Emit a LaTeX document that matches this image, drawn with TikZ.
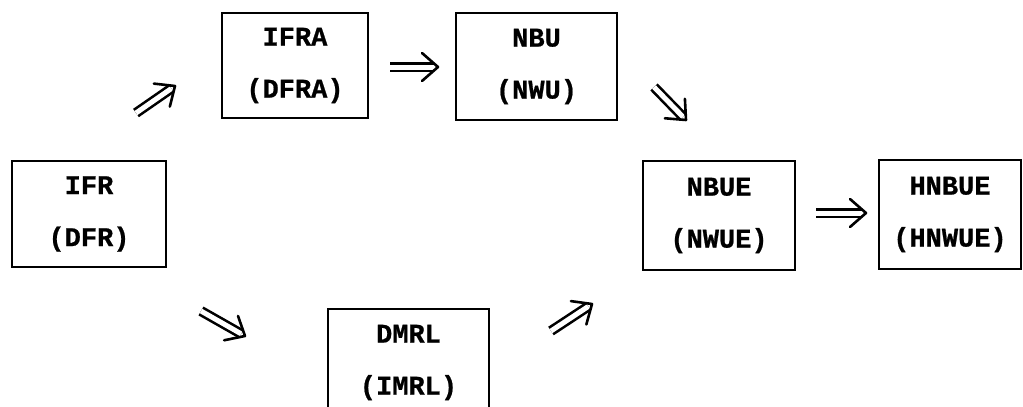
\documentclass[tikz,border=0pt]{standalone}
\usepackage{fontspec}
\newfontfamily\boxfont[BoldFeatures={FakeBold=0.8}]{Liberation Mono}
\usetikzlibrary{calc}

\tikzset{
  class/.style={draw, line width=2.5pt, rectangle, inner sep=0pt, align=center,
    font=\boxfont\bfseries\fontsize{27}{52}\selectfont},
  implshaft/.style={line width=2.6pt, double distance=5pt, double=white},
  impltip/.style={line width=2.6pt, line cap=round, line join=round},
}

% double-stroke implication arrow from #1 to #2
\newcommand\implarrow[2]{%
  \draw[implshaft] (#1) -- ($(#2)!4.5pt!(#1)$);
  \draw[impltip] let \p1=($(#2)!16pt!(#1)$) in
    ($(\p1)!14pt!90:(#2)$) -- (#2) -- ($(\p1)!14pt!-90:(#2)$);
}

\begin{document}
\begin{tikzpicture}[x=1pt, y=-1pt]
  \useasboundingbox (0,0) rectangle (1023,407);

  % ageing classes
  \node[class, minimum width=154pt, minimum height=106pt] (ifr)   at (89,214)    {IFR\\(DFR)};
  \node[class, minimum width=146pt, minimum height=105pt] (ifra)  at (295,65.5)  {IFRA\\(DFRA)};
  \node[class, minimum width=161pt, minimum height=107pt] (nbu)   at (536.5,66.5) {NBU\\(NWU)};
  \node[class, minimum width=152pt, minimum height=109pt] (nbue)  at (719,215.5) {NBUE\\(NWUE)};
  \node[class, minimum width=142pt, minimum height=109pt] (hnbue) at (950,214.5) {HNBUE\\(HNWUE)};
  \node[class, minimum width=161pt, minimum height=107pt] (dmrl)  at (408.5,362.5) {DMRL\\(IMRL)};

  % arrow end points
  \coordinate (s1) at (136,113); \coordinate (e1) at (175,86);
  \coordinate (s2) at (390,67);  \coordinate (e2) at (438,67);
  \coordinate (s3) at (654,87);  \coordinate (e3) at (686,120);
  \coordinate (s4) at (816,213); \coordinate (e4) at (866,213);
  \coordinate (s5) at (201,311); \coordinate (e5) at (245,336);
  \coordinate (s6) at (551,331); \coordinate (e6) at (592,304);

  \implarrow{s1}{e1}
  \implarrow{s2}{e2}
  \implarrow{s3}{e3}
  \implarrow{s4}{e4}
  \implarrow{s5}{e5}
  \implarrow{s6}{e6}
\end{tikzpicture}
\end{document}
